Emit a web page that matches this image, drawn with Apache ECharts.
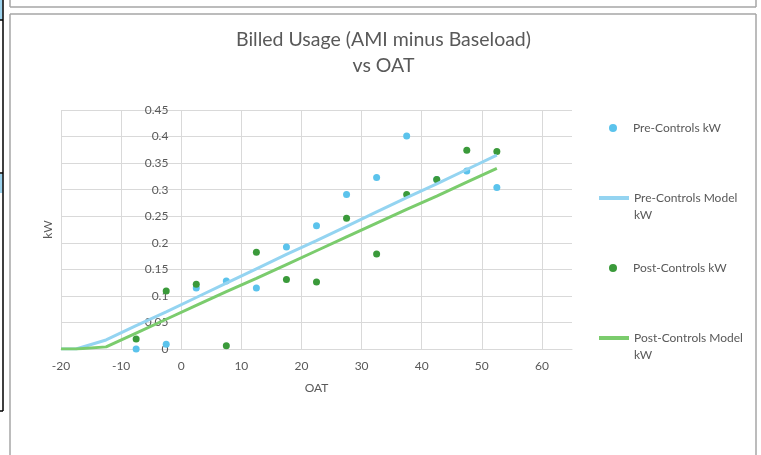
<!DOCTYPE html>
<html>
<head>
<meta charset="utf-8">
<title>Billed Usage vs OAT</title>
<script type="text/javascript" src="https://cdn.jsdelivr.net/npm/echarts@6/dist/echarts.min.js"></script>
</head>
<body style="margin:0;background:#fff">
	<div id="container" style="width:761px;height:455px;"></div>
	<script type="text/javascript">
	// bin centres (OAT) for the measured points
	var oatBins = [-7.5, -2.5, 2.5, 7.5, 12.5, 17.5, 22.5, 27.5, 32.5, 37.5, 42.5, 47.5, 52.5];
	var preKw = [0.000, 0.009, 0.115, 0.128, 0.115, 0.192, 0.232, 0.291, 0.323, 0.401, 0.319, 0.335, 0.304];
	var postKw = [0.019, 0.109, 0.122, 0.006, 0.182, 0.131, 0.126, 0.246, 0.179, 0.291, 0.319, 0.374, 0.372];

	// model lines
	var modelOat = [-20, -17.5, -12.5, -7.5, -2.5, 2.5, 7.5, 12.5, 17.5, 22.5, 27.5, 32.5, 37.5, 42.5, 47.5, 52.5];
	var preModel = [0, 0, 0.017, 0.044, 0.070, 0.097, 0.124, 0.151, 0.178, 0.204, 0.231, 0.258, 0.285, 0.311, 0.338, 0.365];
	var postModel = [0, 0, 0.004, 0.030, 0.056, 0.082, 0.108, 0.133, 0.159, 0.185, 0.211, 0.237, 0.263, 0.288, 0.314, 0.340];

	var xTicks = [-20, -10, 0, 10, 20, 30, 40, 50, 60];

	function pairs(xs, ys) {
		var out = [];
		for (var i = 0; i < xs.length; i++) out.push([xs[i], ys[i]]);
		return out;
	}

	var font = 'Lato';
	var grey = '#595959';
	var dom = document.getElementById("container");
	var myChart = echarts.init(dom, null, {renderer: 'canvas'});

	var legendText = {color: grey, fontSize: 12, fontFamily: font};
	var legendText2 = {color: grey, fontSize: 12, fontFamily: font, lineHeight: 17};

	var option = {
		animation: false,
		backgroundColor: '#fff',
		title: {
			text: 'Billed Usage (AMI minus Baseload)\nvs OAT',
			left: 383.5,
			textAlign: 'center',
			top: 27,
			padding: 0,
			textStyle: {color: grey, fontSize: 19.5, fontWeight: 'normal', fontFamily: font, lineHeight: 26}
		},
		grid: {left: 61, right: 189, top: 110, bottom: 106, containLabel: false, outerBoundsMode: 'none'},
		xAxis: {
			type: 'value',
			min: -20, max: 65, interval: 10,
			name: 'OAT', nameLocation: 'middle', nameGap: 33,
			nameTextStyle: {color: grey, fontSize: 12, fontFamily: font},
			axisLine: {show: true, onZero: false, lineStyle: {color: '#d9d9d9'}},
			axisTick: {show: false, customValues: xTicks},
			axisLabel: {color: grey, fontSize: 12, fontFamily: font, margin: 11, customValues: xTicks},
			splitLine: {show: true, lineStyle: {color: '#d9d9d9'}}
		},
		yAxis: {
			type: 'value',
			min: 0, max: 0.45, interval: 0.05,
			// value axis drawn where OAT = 0
			offset: -120.4,
			name: 'kW', nameLocation: 'middle', nameGap: 127, nameRotate: 90,
			nameTextStyle: {color: grey, fontSize: 12, fontFamily: font},
			axisLine: {show: false, onZero: false},
			axisTick: {show: false},
			axisLabel: {color: grey, fontSize: 12, fontFamily: font, margin: 13},
			splitLine: {show: true, lineStyle: {color: '#d9d9d9'}}
		},
		legend: [
			{data: ['Pre-Controls kW'], left: 609, top: 122, padding: 0, itemWidth: 30, itemHeight: 8, textStyle: legendText},
			{data: ['Pre-Controls Model kW'], left: 597, top: 172.5, padding: 0, itemWidth: 30, itemHeight: 4,
				lineStyle: {width: 4},
				formatter: function () { return ' \nPre-Controls Model\nkW'; }, textStyle: legendText2},
			{data: ['Post-Controls kW'], left: 609, top: 262, padding: 0, itemWidth: 30, itemHeight: 8, textStyle: legendText},
			{data: ['Post-Controls Model kW'], left: 597, top: 312.5, padding: 0, itemWidth: 30, itemHeight: 4,
				lineStyle: {width: 4},
				formatter: function () { return ' \nPost-Controls Model\nkW'; }, textStyle: legendText2}
		],
		series: [
			{name: 'Pre-Controls kW', type: 'scatter', data: pairs(oatBins, preKw), symbolSize: 7,
				itemStyle: {color: '#5bc3ec', opacity: 1}},
			{name: 'Pre-Controls Model kW', type: 'line', data: pairs(modelOat, preModel), symbol: 'none',
				lineStyle: {width: 3, color: '#94d4f1'}, itemStyle: {color: '#94d4f1'}},
			{name: 'Post-Controls kW', type: 'scatter', data: pairs(oatBins, postKw), symbolSize: 7,
				itemStyle: {color: '#3a9a3a', opacity: 1}},
			{name: 'Post-Controls Model kW', type: 'line', data: pairs(modelOat, postModel), symbol: 'none',
				lineStyle: {width: 3, color: '#7bcc6d'}, itemStyle: {color: '#7bcc6d'}}
		],
		graphic: [
			// spreadsheet frame bits round the chart
			{type: 'line', shape: {x1: 10, y1: 7, x2: 756, y2: 7}, style: {stroke: '#a6a6a6', lineWidth: 1.5}},
			{type: 'line', shape: {x1: 756, y1: 0, x2: 756, y2: 7}, style: {stroke: '#a6a6a6', lineWidth: 1.5}},
			{type: 'line', shape: {x1: 10, y1: 0, x2: 10, y2: 7}, style: {stroke: '#a6a6a6', lineWidth: 1.5}},
			{type: 'line', shape: {x1: 10, y1: 14, x2: 756, y2: 14}, style: {stroke: '#a6a6a6', lineWidth: 1.5}},
			{type: 'line', shape: {x1: 10, y1: 14, x2: 10, y2: 455}, style: {stroke: '#a6a6a6', lineWidth: 1.5}},
			{type: 'line', shape: {x1: 756, y1: 14, x2: 756, y2: 455}, style: {stroke: '#a6a6a6', lineWidth: 1.5}},
			{type: 'rect', shape: {x: 0, y: 0, width: 2.5, height: 20}, style: {fill: '#9dd3ee'}},
			{type: 'rect', shape: {x: 0, y: 174, width: 2.5, height: 19}, style: {fill: '#9dd3ee'}},
			{type: 'line', shape: {x1: 3, y1: 0, x2: 3, y2: 411}, style: {stroke: '#000', lineWidth: 1.5}},
			{type: 'line', shape: {x1: 0, y1: 20, x2: 3, y2: 20}, style: {stroke: '#000', lineWidth: 1.5}},
			{type: 'line', shape: {x1: 0, y1: 173, x2: 3, y2: 173}, style: {stroke: '#000', lineWidth: 1.5}},
			{type: 'line', shape: {x1: 0, y1: 411, x2: 3, y2: 411}, style: {stroke: '#000', lineWidth: 1.5}}
		]
	};
	myChart.setOption(option, true);
	</script>
</body>
</html>
